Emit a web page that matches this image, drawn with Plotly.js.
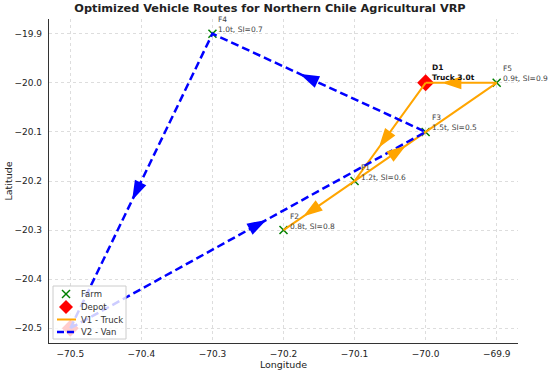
<!DOCTYPE html>
<html>
<head>
<meta charset="utf-8">
<script src="https://cdn.plot.ly/plotly-3.0.1.min.js"></script>
<style>html,body{margin:0;padding:0;background:#fff;}#chart{width:550px;height:373px;}</style>
</head>
<body>
<div id="chart"></div>
<script>
// ---------- data ----------
const farmNames = ["F1", "F2", "F3", "F4", "F5"];
const farmLon = [-70.1, -70.2, -70.0, -70.3, -69.9];
const farmLat = [-20.2, -20.3, -20.1, -19.9, -20.0];
const farmDemand = [1.2, 0.8, 1.5, 1.0, 0.9];
const farmSI = [0.6, 0.8, 0.5, 0.7, 0.9];

const depotNames = ["D1", "D2"];
const depotLon = [-70.0, -70.5];
const depotLat = [-20.0, -20.5];
const depotLabels = ["Truck 3.0t", ""];

const truckRoute = ["D1", "F1", "F2", "F3", "F5", "D1"];
const vanRoute = ["D2", "F3", "F4", "D2"];
const truckArrowLegs = [["D1", "F1"], ["F1", "F2"], ["F1", "F3"], ["F5", "D1"]];
const vanArrowLegs = [["D2", "F3"], ["F3", "F4"], ["F4", "D2"]];

const xTicks = [-70.5, -70.4, -70.3, -70.2, -70.1, -70.0, -69.9];
const yTicks = [-19.9, -20.0, -20.1, -20.2, -20.3, -20.4, -20.5];
const legendNames = ["Farm", "Depot", "V1 - Truck", "V2 - Van"];

// ---------- layout geometry ----------
const W = 550, H = 373;
const M = {l: 49, r: 32, t: 19, b: 30};
const plotW = W - M.l - M.r, plotH = H - M.t - M.b;
const xr = [-70.53, -69.87], yr = [-20.53, -19.87];
const sx = plotW / (xr[1] - xr[0]), sy = plotH / (yr[1] - yr[0]);
const px = v => (v - M.l) / plotW;            // pixel x -> paper
const py = v => (H - M.b - v) / plotH;        // pixel y -> paper

const FONT = "DejaVu Sans, Liberation Sans, sans-serif";
const ORANGE = "#FFA500", BLUE = "#0000FF", GREEN = "#008000", RED = "#FF0000";
const fmtTick = v => (v < 0 ? "\u2212" : "") + Math.abs(v).toFixed(1);

function pos(name) {
  let i = farmNames.indexOf(name);
  if (i >= 0) return {x: farmLon[i], y: farmLat[i]};
  i = depotNames.indexOf(name);
  return {x: depotLon[i], y: depotLat[i]};
}

function arrows(legs, offPx) {
  const xs = [], ys = [], ang = [];
  legs.forEach(([a, b]) => {
    const p = pos(a), q = pos(b);
    const mx = (p.x + q.x) / 2, my = (p.y + q.y) / 2;
    const dx = (q.x - p.x) * sx, dy = (q.y - p.y) * sy;
    const L = Math.hypot(dx, dy), ux = dx / L, uy = dy / L;
    xs.push(mx + offPx * ux / sx);
    ys.push(my + offPx * uy / sy);
    ang.push(Math.atan2(ux, uy) * 180 / Math.PI);
  });
  return {xs, ys, ang};
}

const ta = arrows(truckArrowLegs, 16);
const va = arrows(vanArrowLegs, 18);

const traces = [
  {type: "scatter", mode: "markers", name: "Farm", x: farmLon, y: farmLat, showlegend: false,
   marker: {symbol: "x-thin", size: 8, color: GREEN, line: {color: GREEN, width: 1.5}}, hoverinfo: "skip"},
  {type: "scatter", mode: "markers", name: "Depot", x: depotLon, y: depotLat, showlegend: false,
   marker: {symbol: "diamond", size: 13, color: RED, line: {width: 0}}, hoverinfo: "skip"},
  {type: "scatter", mode: "lines", name: "V1 - Truck", showlegend: false,
   x: truckRoute.map(n => pos(n).x), y: truckRoute.map(n => pos(n).y),
   line: {color: ORANGE, width: 2}, hoverinfo: "skip"},
  {type: "scatter", mode: "lines", name: "V2 - Van", showlegend: false,
   x: vanRoute.map(n => pos(n).x), y: vanRoute.map(n => pos(n).y),
   line: {color: BLUE, width: 2.5, dash: "8px,4px"}, hoverinfo: "skip"},
  {type: "scatter", mode: "markers", x: ta.xs, y: ta.ys, showlegend: false, hoverinfo: "skip",
   marker: {symbol: "arrow", size: 16, angle: ta.ang, color: ORANGE, line: {color: ORANGE, width: 2}}},
  {type: "scatter", mode: "markers", x: va.xs, y: va.ys, showlegend: false, hoverinfo: "skip",
   marker: {symbol: "arrow", size: 16, angle: va.ang, color: BLUE, line: {color: BLUE, width: 2}}}
];

const annotations = [];
farmNames.forEach((n, i) => {
  annotations.push({x: farmLon[i], y: farmLat[i], xref: "x", yref: "y",
    text: n + "<br>" + farmDemand[i].toFixed(1) + "t, SI=" + farmSI[i].toFixed(1),
    showarrow: false, xanchor: "left", yanchor: "bottom", align: "left",
    xshift: 5, yshift: -1.5, borderpad: 0,
    font: {family: FONT, size: 7.5, color: "#444"}});
});
depotNames.forEach((n, i) => {
  if (!depotLabels[i]) return;
  annotations.push({x: depotLon[i], y: depotLat[i], xref: "x", yref: "y",
    text: "<b>" + n + "<br>" + depotLabels[i] + "</b>",
    showarrow: false, xanchor: "left", yanchor: "bottom", align: "left",
    xshift: 5, yshift: 0, borderpad: 0,
    font: {family: FONT, size: 7.5, color: "#111"}});
});

// custom compact legend (matplotlib style)
const legX0 = 53, legX1 = 126, legY0 = 286, legY1 = 339;
const rowY = [294, 307, 319.5, 332];
const symX = 66, textX = 80;
const shapes = [
  {type: "rect", xref: "paper", yref: "paper", layer: "above",
   x0: px(legX0), x1: px(legX1), y0: py(legY1), y1: py(legY0),
   fillcolor: "rgba(255,255,255,0.8)", line: {color: "#cccccc", width: 1}},
  {type: "line", xref: "paper", yref: "paper", layer: "above",
   x0: px(symX - 4), x1: px(symX + 4), y0: py(rowY[0] - 4), y1: py(rowY[0] + 4),
   line: {color: GREEN, width: 1.5}},
  {type: "line", xref: "paper", yref: "paper", layer: "above",
   x0: px(symX - 4), x1: px(symX + 4), y0: py(rowY[0] + 4), y1: py(rowY[0] - 4),
   line: {color: GREEN, width: 1.5}},
  {type: "path", xref: "paper", yref: "paper", layer: "above",
   path: "M" + px(symX) + "," + py(rowY[1] - 7) + " L" + px(symX + 7) + "," + py(rowY[1]) +
         " L" + px(symX) + "," + py(rowY[1] + 7) + " L" + px(symX - 7) + "," + py(rowY[1]) + " Z",
   fillcolor: RED, line: {width: 0}},
  {type: "line", xref: "paper", yref: "paper", layer: "above",
   x0: px(57), x1: px(76), y0: py(rowY[2]), y1: py(rowY[2]),
   line: {color: ORANGE, width: 2}},
  {type: "line", xref: "paper", yref: "paper", layer: "above",
   x0: px(57), x1: px(76), y0: py(rowY[3]), y1: py(rowY[3]),
   line: {color: BLUE, width: 2.5, dash: "7px,3px"}}
];
legendNames.forEach((t, i) => {
  annotations.push({xref: "paper", yref: "paper", x: px(textX), y: py(rowY[i]),
    text: t, showarrow: false, xanchor: "left", yanchor: "middle", borderpad: 0,
    font: {family: FONT, size: 8.5, color: "#333"}});
});

const layout = {
  width: W, height: H, margin: M,
  paper_bgcolor: "#ffffff", plot_bgcolor: "#ffffff",
  showlegend: false,
  font: {family: FONT, color: "#222"},
  title: {text: "<b>Optimized Vehicle Routes for Northern Chile Agricultural VRP</b>",
    font: {family: FONT, size: 11.3, color: "#222"},
    x: 270 / W, xref: "container", y: 1 - 8.5 / H, yref: "container", yanchor: "middle", xanchor: "center"},
  xaxis: {range: xr, tickvals: xTicks, ticktext: xTicks.map(fmtTick),
    showgrid: true, gridcolor: "#dddddd", griddash: "dot", gridwidth: 1,
    zeroline: false, showline: true, linecolor: "#333", linewidth: 1.2, mirror: false,
    ticks: "", ticklabelstandoff: 2, automargin: false,
    tickfont: {family: FONT, size: 9, color: "#222"},
    title: {text: "Longitude", font: {family: FONT, size: 9.5, color: "#222"}, standoff: 3}},
  yaxis: {range: yr, tickvals: yTicks, ticktext: yTicks.map(fmtTick),
    showgrid: true, gridcolor: "#dddddd", griddash: "dot", gridwidth: 1,
    zeroline: false, showline: true, linecolor: "#333", linewidth: 1.2, mirror: false,
    ticks: "", ticklabelstandoff: 4, automargin: false,
    tickfont: {family: FONT, size: 9, color: "#222"},
    title: {text: "Latitude", font: {family: FONT, size: 9.5, color: "#222"}, standoff: 0}},
  annotations: annotations,
  shapes: shapes
};

Plotly.newPlot("chart", traces, layout, {staticPlot: true, displayModeBar: false});
</script>
</body>
</html>
